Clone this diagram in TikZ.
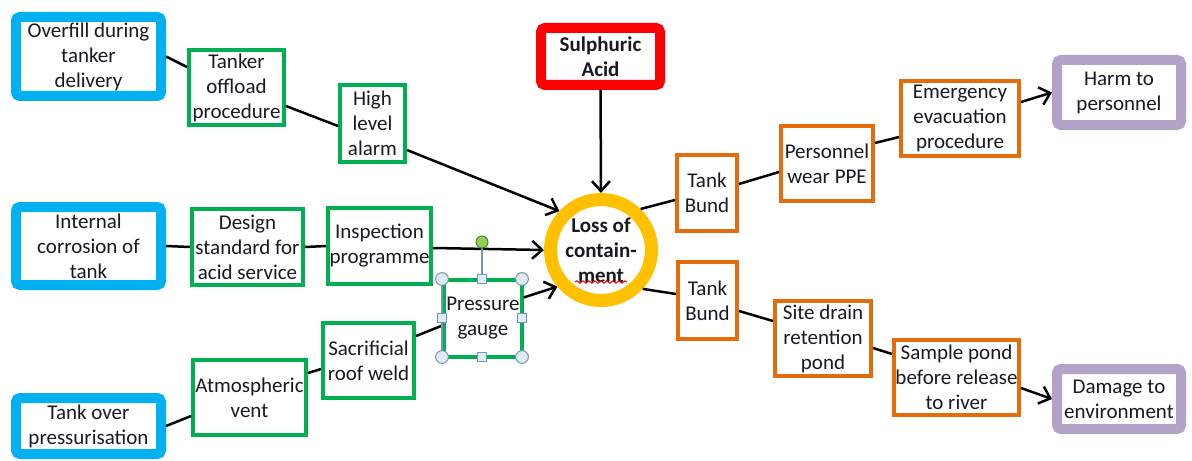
\documentclass[tikz,border=0pt]{standalone}
\usepackage{fontspec}
\setmainfont{Carlito}
\usepackage{tikz}
\usetikzlibrary{
  calc,arrows.meta,decorations.pathmorphing
}
\definecolor{causeblue}{RGB}{0,176,240}
\definecolor{barriergreen}{RGB}{0,176,80}
\definecolor{hazardred}{RGB}{255,0,0}
\definecolor{topgold}{RGB}{255,192,0}
\definecolor{mitigorange}{RGB}{228,108,10}
\definecolor{conseqpurple}{RGB}{179,162,199}
\definecolor{txtdark}{RGB}{25,25,35}
\definecolor{handlefill}{RGB}{222,234,246}
\definecolor{handleedge}{RGB}{120,150,180}
\definecolor{rotgreen}{RGB}{146,208,80}
\tikzset{
  box/.style={draw,fill=white,align=center,inner sep=0pt,text=txtdark,
    font=\fontsize{10.5pt}{12.5pt}\selectfont},
  cause/.style={box,draw=causeblue,line width=5pt,rounded corners=2pt},
  barrier/.style={box,draw=barriergreen,line width=2pt},
  mitig/.style={box,draw=mitigorange,line width=2pt},
  conseq/.style={box,draw=conseqpurple,line width=5pt,rounded corners=2pt},
  hazard/.style={box,draw=hazardred,line width=5pt,rounded corners=2pt,
    font=\fontsize{10.5pt}{12.5pt}\selectfont\bfseries},
  topevent/.style={box,circle,draw=topgold,line width=6.5pt,
    font=\fontsize{10.5pt}{12.5pt}\selectfont\bfseries},
  link/.style={line width=1.25pt},
  handle/.style={fill=handlefill,draw=handleedge,line width=0.5pt},
  selframe/.style={draw=handleedge,line width=0.6pt}
}
\tikzstyle{arrow} = [link,-{Straight Barb[length=5pt,width=9pt]}]

\begin{document}
\begin{tikzpicture}[x=0.5pt,y=-0.5pt]
  \useasboundingbox (0,0) rectangle (1192,460);

  \node[cause,minimum width=72.5pt,minimum height=39.5pt] (overfill) at (88.5,56.5)
    {Overfill during\\tanker\\delivery};
  \node[cause,minimum width=72.5pt,minimum height=39pt] (internal) at (88.5,246)
    {Internal\\corrosion of\\tank};
  \node[cause,minimum width=72.5pt,minimum height=28pt] (overpress) at (88.5,426)
    {Tank over\\pressurisation};

  \node[barrier,minimum width=47.5pt,minimum height=37.5pt] (tanker) at (236.5,87.5)
    {Tanker\\offload\\procedure};
  \node[barrier,minimum width=32.5pt,minimum height=38.5pt] (alarm) at (372.5,123.5)
    {High\\level\\alarm};
  \node[barrier,minimum width=55.5pt,minimum height=38pt] (design) at (247.5,247)
    {Design\\standard for\\acid service};
  \node[barrier,minimum width=51.5pt,minimum height=38pt] (inspect) at (379.5,246)
    {Inspection\\programme};
  \node[barrier,minimum width=56.5pt,minimum height=37.5pt] (atmvent) at (249.5,397.5)
    {Atmospheric\\vent};
  \node[barrier,minimum width=45.5pt,minimum height=37.5pt] (roofweld) at (368.5,360.5)
    {Sacrificial\\roof weld};
  \node[barrier,line width=1.6pt,minimum width=39pt,minimum height=38.5pt] (gauge) at (483,318.5)
    {Pressure\\gauge};

  \node[hazard,minimum width=59.5pt,minimum height=28.5pt] (acid) at (600.5,56.5)
    {Sulphuric\\Acid};
  \node[topevent,minimum size=50.5pt] (loss) at (601,250)
    {Loss of\\contain-\\ment};

  \node[mitig,minimum width=30pt,minimum height=38pt] (bund1) at (707,193)
    {Tank\\Bund};
  \node[mitig,minimum width=46pt,minimum height=37.5pt] (ppe) at (827,163.5)
    {Personnel\\wear PPE};
  \node[mitig,minimum width=59pt,minimum height=37.5pt] (evac) at (960,118.5)
    {Emergency\\evacuation\\procedure};
  \node[mitig,minimum width=29.5pt,minimum height=38.5pt] (bund2) at (707.5,300.5)
    {Tank\\Bund};
  \node[mitig,minimum width=48pt,minimum height=37.5pt] (drain) at (823,338.5)
    {Site drain\\retention\\pond};
  \node[mitig,minimum width=62.5pt,minimum height=37.5pt] (sample) at (956.5,377.5)
    {Sample pond\\before release\\to river};

  \node[conseq,minimum width=62pt,minimum height=32.5pt] (harm) at (1119,92.5)
    {Harm to\\personnel};
  \node[conseq,minimum width=62pt,minimum height=30pt] (damage) at (1119,399)
    {Damage to\\environment};

  \draw[link] (overfill.east) -- ($(tanker.west)+(0,-20.5)$);
  \draw[link] ($(tanker.east)+(0,18.5)$) -- ($(alarm.west)+(0,2.5)$);
  \draw[arrow] ($(alarm.east)+(0,26.5)$) -- (loss.137);
  \draw[link] (internal.east) -- (design.west);
  \draw[link] (design.east) -- (inspect.west);
  \draw[arrow] ($(inspect.east)+(0,2)$) -- (loss.west);
  \draw[link] (overpress.east) -- ($(atmvent.west)+(0,18.5)$);
  \draw[link] ($(atmvent.east)+(0,-24.5)$) -- ($(roofweld.west)+(0,8.5)$);
  \draw[link] ($(roofweld.east)+(0,-24.5)$) -- ($(gauge.west)+(0,7)$);
  \draw[arrow] ($(gauge.east)+(0,-21)$) -- (loss.220);
  \draw[arrow] (acid.south) -- (loss.north);

  \draw[link] (loss.46) -- ($(bund1.west)+(0,7)$);
  \draw[link] ($(bund1.east)+(0,-9)$) -- ($(ppe.west)+(0,8.5)$);
  \draw[link] ($(ppe.east)+(0,-20.5)$) -- ($(evac.west)+(0,18.5)$);
  \draw[arrow] ($(evac.east)+(0,-16.5)$) -- (harm.west);
  \draw[link] (loss.-43) -- ($(bund2.west)+(0,-6.5)$);
  \draw[link] ($(bund2.east)+(0,10.5)$) -- ($(drain.west)+(0,-17.5)$);
  \draw[link] ($(drain.east)+(0,9.5)$) -- ($(sample.west)+(0,-23.5)$);
  \draw[arrow] ($(sample.east)+(0,10.5)$) -- (damage.west);

  \draw[red,line width=0.5pt,decorate,
    decoration={snake,amplitude=0.6pt,segment length=3pt}]
    ($(loss.center)+(-26,32)$) -- ++(52,0);

  \draw[selframe] (442,279) -- (442,357);
  \draw[selframe] (482,279) -- (482,242);
  \filldraw[handle,fill=rotgreen,draw=rotgreen!60!black] (482,242) circle (3pt);
  \foreach \hx/\hy in {442/279,522/279,442/357,522/357}
    \filldraw[handle] (\hx,\hy) circle (3.2pt);
  \foreach \hx/\hy in {482/279,442/318,522/318,482/357}
    \filldraw[handle] ($(\hx,\hy)+(-4.5,-4.5)$) rectangle ++(9,9);
\end{tikzpicture}
\end{document}
